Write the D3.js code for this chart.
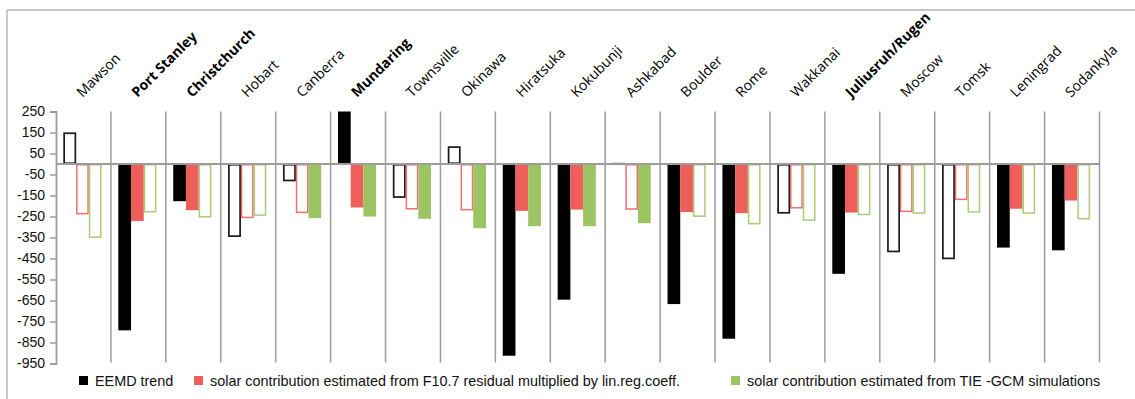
<!DOCTYPE html>
<html>
<head>
<meta charset="utf-8">
<script src="https://cdn.jsdelivr.net/npm/d3@7"></script>
<style>
  html, body { margin: 0; padding: 0; background: #fff; }
  svg { display: block; }
</style>
</head>
<body>
<svg id="chart" width="1135" height="399"></svg>
<script>
// Stations, ordered as on the axis
const stations = ["Mawson", "Port Stanley", "Christchurch", "Hobart", "Canberra", "Mundaring",
  "Townsville", "Okinawa", "Hiratsuka", "Kokubunji", "Ashkabad", "Boulder", "Rome", "Wakkanai",
  "Juliusruh/Rugen", "Moscow", "Tomsk", "Leningrad", "Sodankyla"];
// Stations whose names are set in bold
const boldStations = ["Port Stanley", "Christchurch", "Mundaring", "Juliusruh/Rugen"];

// EEMD trend
const eemdTrend = [150, -792, -177, -347, -82, 250, -161, 84, -913, -646, 5, -667, -832, -236,
  -523, -420, -453, -398, -411];
// Solar contribution from F10.7 residual x lin.reg.coeff.
const solarF107 = [-240, -272, -220, -258, -234, -207, -217, -221, -223, -217, -218, -229, -234, -212,
  -231, -229, -172, -213, -174];
// Solar contribution from TIE-GCM simulations
const solarTieGcm = [-352, -231, -255, -247, -258, -250, -261, -306, -296, -296, -282, -252, -288, -271,
  -244, -237, -232, -237, -264];

// Filled bars are significant, hollow ones are not
const eemdSignificant = [false, true, true, false, false, true, false, false, true, true, false, true, true, false,
  true, false, false, true, true];
const f107Significant = [false, true, true, false, false, true, false, false, true, true, false, true, true, false,
  true, false, false, true, true];
const tieSignificant = [false, false, false, false, true, true, true, true, true, true, true, false, false, false,
  false, false, false, false, false];

const yTicks = [250, 150, 50, -50, -150, -250, -350, -450, -550, -650, -750, -850, -950];

const seriesNames = [
  "EEMD trend",
  "solar contribution estimated from F10.7 residual multiplied by lin.reg.coeff.",
  "solar contribution estimated from TIE -GCM simulations"
];
const seriesColors = ["#000000", "#ee5e5b", "#9dc462"];
const seriesStroke = ["#1a1a1a", "#f0706c", "#a9cc78"];

const series = [
  { values: eemdTrend, filled: eemdSignificant },
  { values: solarF107, filled: f107Significant },
  { values: solarTieGcm, filled: tieSignificant }
];

const svg = d3.select("#chart");
const gridColor = "#9c9c9c";

// Frame
svg.append("line").attr("x1", 7).attr("x2", 1135).attr("y1", 10).attr("y2", 10)
  .attr("stroke", "#b4b4b4").attr("stroke-width", 1.5);
svg.append("line").attr("x1", 7).attr("x2", 7).attr("y1", 10).attr("y2", 399)
  .attr("stroke", "#b4b4b4").attr("stroke-width", 1.5);

const x = d3.scaleBand().domain(stations).range([56, 1099.5]).padding(0);
const xs = d3.scaleBand().domain([0, 1, 2]).range([0, x.bandwidth()])
  .paddingInner(0).paddingOuter(0.66).align(0.44);
const y = d3.scaleLinear().domain([-950, 250]).range([363.5, 111.5]);

// Category separators
svg.append("g").selectAll("line").data(stations)
  .join("line")
  .attr("x1", d => x(d) + x.bandwidth())
  .attr("x2", d => x(d) + x.bandwidth())
  .attr("y1", y(250)).attr("y2", y(-950) - 1)
  .attr("stroke", gridColor).attr("stroke-width", 1.5);

// Y axis
const yAxis = svg.append("g").attr("transform", "translate(56,0)")
  .call(d3.axisLeft(y).tickValues(yTicks).tickSize(6).tickPadding(5)
    .tickFormat(d => d3.format("d")(d).replace("−", "-")));
yAxis.select(".domain").attr("stroke", gridColor).attr("stroke-width", 1.8);
yAxis.selectAll(".tick line").attr("stroke", gridColor).attr("stroke-width", 1.5);
yAxis.selectAll(".tick text")
  .attr("font-family", "'Liberation Sans', Arial, Helvetica, sans-serif")
  .attr("font-size", 14).attr("fill", "#111");

// Bars
const bars = svg.append("g");
series.forEach((s, si) => {
  bars.append("g").selectAll("rect").data(s.values.map((v, i) => ({ v, i, filled: s.filled[i] })))
    .join("rect")
    .attr("x", d => x(stations[d.i]) + xs(si) + (d.filled ? 0 : 0.75))
    .attr("width", d => xs.bandwidth() - (d.filled ? 0 : 1.5))
    .attr("y", d => Math.min(y(d.v), y(0)) + (d.filled ? 0 : 0.75))
    .attr("height", d => Math.max(0.5, Math.abs(y(d.v) - y(0)) - (d.filled ? 0 : 1.5)))
    .attr("fill", d => d.filled ? seriesColors[si] : "#fff")
    .attr("stroke", d => d.filled ? "none" : seriesStroke[si])
    .attr("stroke-width", si === 0 ? 1.7 : 1.5);
});

// Zero line
svg.append("line").attr("x1", 56).attr("x2", 1099.5).attr("y1", y(0)).attr("y2", y(0))
  .attr("stroke", gridColor).attr("stroke-width", 2);

// Station names, rotated
svg.append("g").selectAll("text").data(stations).join("text")
  .attr("transform", d => `translate(${x(d) + x.bandwidth() / 2 - 1},98) rotate(-45)`)
  .attr("font-family", "'Open Sans', 'Noto Sans', sans-serif")
  .attr("font-size", 14)
  .attr("font-weight", d => boldStations.includes(d) ? 700 : 400)
  .attr("fill", "#000")
  .text(d => d);

// Legend
const legendX = [79, 194, 731];
const legend = svg.append("g").attr("font-family", "'Liberation Sans', Arial, Helvetica, sans-serif")
  .attr("font-size", 14.4);
seriesNames.forEach((name, i) => {
  legend.append("rect").attr("x", legendX[i]).attr("y", 376).attr("width", 9).attr("height", 9)
    .attr("fill", seriesColors[i]);
  legend.append("text").attr("x", legendX[i] + 16).attr("y", 385.5).attr("fill", "#111").text(name);
});
</script>
</body>
</html>
